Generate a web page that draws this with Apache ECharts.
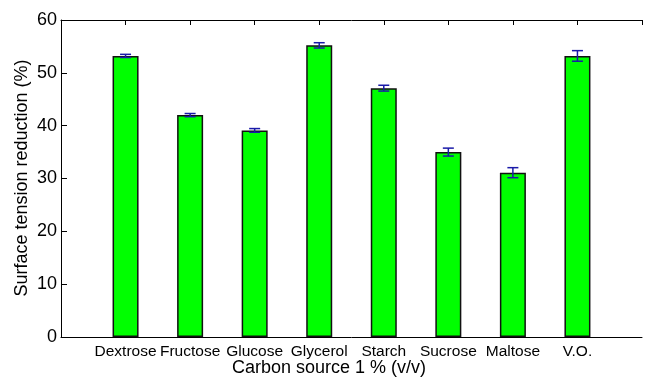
<!DOCTYPE html>
<html>
<head>
<meta charset="utf-8">
<script src="https://cdn.jsdelivr.net/npm/echarts@6/dist/echarts.min.js"></script>
<style>
  html, body { margin: 0; padding: 0; background: #fff; }
  #chart { width: 645px; height: 382px; }
</style>
</head>
<body>
<div id="chart"></div>
<script>
// Carbon sources tested and the surface tension reduction each produced
const categories = ['Dextrose', 'Fructose', 'Glucose', 'Glycerol', 'Starch', 'Sucrose', 'Maltose', 'V.O.'];
const reduction = [53.2, 42.0, 39.1, 55.2, 47.1, 35.0, 31.1, 53.2];
const errors = [0.3, 0.3, 0.35, 0.5, 0.55, 0.75, 0.95, 1.0];
const yTicks = [0, 10, 20, 30, 40, 50, 60];

const FONT = '"Liberation Sans", Arial, sans-serif';

// bars sit at x = 1..8 on an axis running 0..9
const barData = reduction.map((v, i) => [i + 1, v]);
const errData = reduction.map((v, i) => [i + 1, v - errors[i], v + errors[i]]);

const chart = echarts.init(document.getElementById('chart'), null, { renderer: 'canvas' });

const axisLine = { show: true, lineStyle: { color: '#000', width: 1 } };

chart.setOption({
  animation: false,
  backgroundColor: '#fff',
  grid: { left: 61, top: 20, bottom: 45, right: -10 },
  xAxis: [
    {
      type: 'value', min: 0, max: 9, interval: 1, position: 'bottom',
      axisLine: axisLine,
      axisTick: { show: false },
      splitLine: { show: false },
      axisLabel: {
        color: '#000', fontFamily: FONT, fontSize: 15.5, margin: 7,
        formatter: v => categories[v - 1] || ''
      }
    },
    {
      type: 'value', min: 0, max: 9, interval: 1, position: 'top',
      axisLine: axisLine,
      axisTick: { show: true, inside: true, length: 5, lineStyle: { color: '#000' } },
      splitLine: { show: false },
      axisLabel: { show: false }
    }
  ],
  yAxis: {
    type: 'value', min: yTicks[0], max: yTicks[yTicks.length - 1], interval: 10,
    axisLine: axisLine,
    axisTick: { show: true, inside: true, length: 6, lineStyle: { color: '#000' } },
    splitLine: { show: false },
    axisLabel: { color: '#000', fontFamily: FONT, fontSize: 18, margin: 4 }
  },
  graphic: [
    {
      type: 'text', left: 232, top: 359,
      style: { text: 'Carbon source 1 % (v/v)', fill: '#000', font: '18px ' + FONT }
    },
    {
      type: 'text', x: 22, y: 178, rotation: Math.PI / 2,
      style: {
        text: 'Surface tension reduction (%)', fill: '#000', font: '18px ' + FONT,
        align: 'center', verticalAlign: 'middle'
      }
    }
  ],
  series: [
    {
      type: 'bar',
      data: barData,
      barWidth: 26,
      itemStyle: { color: '#00ff00', borderColor: '#111', borderWidth: 1.5 }
    },
    {
      type: 'custom',
      data: errData,
      z: 5,
      renderItem: function (params, api) {
        const x = api.value(0);
        const lo = api.coord([x, api.value(1)]);
        const hi = api.coord([x, api.value(2)]);
        const half = 5.5;
        const style = { stroke: '#1a1aa8', lineWidth: 1.5 };
        return {
          type: 'group',
          children: [
            { type: 'line', shape: { x1: lo[0], y1: lo[1], x2: hi[0], y2: hi[1] }, style },
            { type: 'line', shape: { x1: hi[0] - half, y1: hi[1], x2: hi[0] + half, y2: hi[1] }, style },
            { type: 'line', shape: { x1: lo[0] - half, y1: lo[1], x2: lo[0] + half, y2: lo[1] }, style }
          ]
        };
      }
    }
  ]
});
</script>
</body>
</html>
